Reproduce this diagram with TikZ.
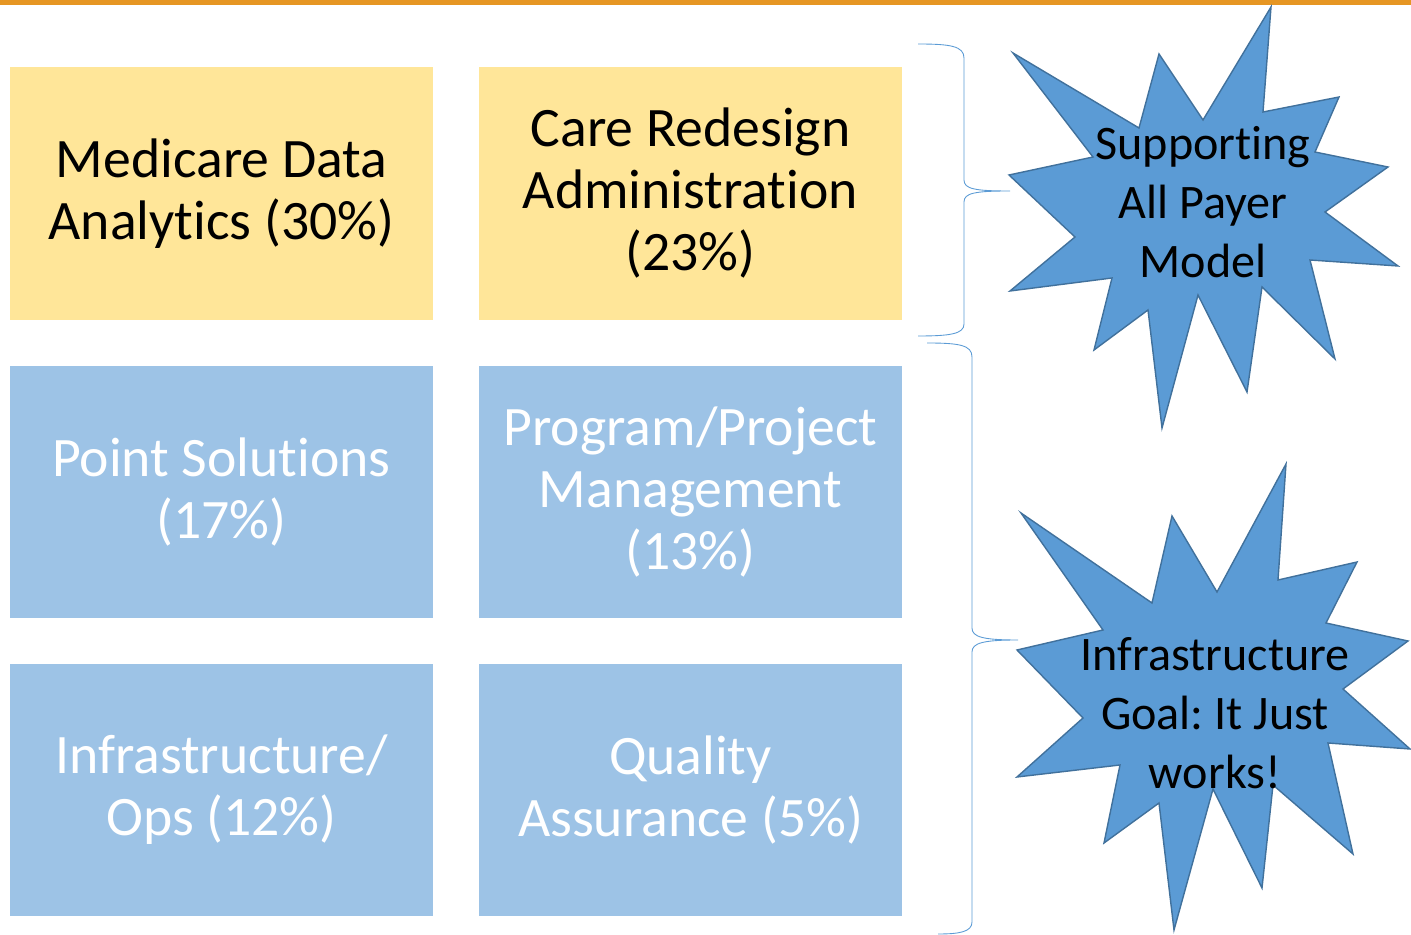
\documentclass[tikz,border=0pt]{standalone}
\usepackage{fontspec}
\setmainfont{Carlito}[RawFeature={-liga;-clig;-dlig;-calt;-rlig}]
\usepackage{tikz}
\usetikzlibrary{positioning,calc}
\usepackage{xcolor}
\definecolor{topbar}{RGB}{230,150,35}
\definecolor{softyellow}{RGB}{255,230,153}
\definecolor{softblue}{RGB}{157,195,230}
\definecolor{starblue}{RGB}{91,155,213}
\definecolor{stardark}{RGB}{65,113,156}
\definecolor{bracecol}{RGB}{91,155,213}
\frenchspacing

\begin{document}
\begin{tikzpicture}[
    x=0.02cm,y=-0.02cm,
    box/.style={rectangle,minimum width=8.46cm,minimum height=5.06cm,align=center,inner sep=0pt,font=\fontsize{31.7}{35.3}\selectfont},
    ylw/.style={box,fill=softyellow,text=black},
    blu/.style={box,fill=softblue,text=white},
    star/.style={fill=starblue,draw=stardark,line width=0.8pt,line join=miter},
    startext/.style={align=center,font=\fontsize{27.4}{33.5}\selectfont,text=black},
    brace/.style={draw=bracecol,line width=0.5pt}
]
\useasboundingbox (0,0) rectangle (1411,935);
\fill[topbar] (0,0) rectangle (1411,5);

% program boxes
\node[ylw] (medicare) at (221.5,193.5) {Medicare Data\\Analytics (30\%)};
\node[ylw] (care) at (690.5,193.5) {Care Redesign\\Administration\\(23\%)};
\node[blu] (point) at (221.5,492) {Point Solutions\\(17\%)};
\node[blu] (program) at (690.5,492) {Program/Project\\Management\\(13\%)};
\node[blu] (infra) at (221.5,790) {Infrastructure/\\Ops (12\%)};
\node[blu] (quality) at (690.5,790) {Quality\\Assurance (5\%)};

% braces
\draw[brace] (918,44) .. controls (950,44) and (964,46) .. (964,58)
    -- (964,180) .. controls (964,189) and (975,191) .. (1010,191)
    .. controls (975,191) and (964,193) .. (964,202)
    -- (964,324) .. controls (964,334) and (950,336) .. (918,336);
\draw[brace] (927,343) .. controls (959,343) and (972,345) .. (972,357)
    -- (972,628) .. controls (972,637) and (983,640) .. (1018,640)
    .. controls (983,640) and (972,643) .. (972,652)
    -- (972,922) .. controls (972,932) and (959,934) .. (938,934);

% starbursts
\draw[star] (1271,7) -- (1263,112) -- (1339,97) -- (1315,152) -- (1388,167)
    -- (1325,212) -- (1398,266) -- (1310,260) -- (1335,359) -- (1262,287)
    -- (1247,392) -- (1198,295) -- (1162,428) -- (1148,310) -- (1094,350)
    -- (1112,278) -- (1010,291) -- (1075,237) -- (1009,175) -- (1093,157)
    -- (1013,53) -- (1139,128) -- (1159,54) -- (1203,120) -- cycle;
\draw[star] (1286,464) -- (1278,580) -- (1357,562) -- (1326,623) -- (1408,641)
    -- (1343,689) -- (1410,749) -- (1328,743) -- (1353,854) -- (1273,785)
    -- (1262,888) -- (1213,789) -- (1174,930) -- (1159,803) -- (1104,843)
    -- (1120,765) -- (1017,777) -- (1083,718) -- (1017,650) -- (1103,630)
    -- (1021,513) -- (1152,603) -- (1172,516) -- (1217,592) -- cycle;

\node[startext] (payer) at (1203,202) {Supporting\\All Payer\\Model};
\node[startext] (goal) at (1215,713) {Infrastructure\\Goal: It Just\\works!};
\end{tikzpicture}
\end{document}
